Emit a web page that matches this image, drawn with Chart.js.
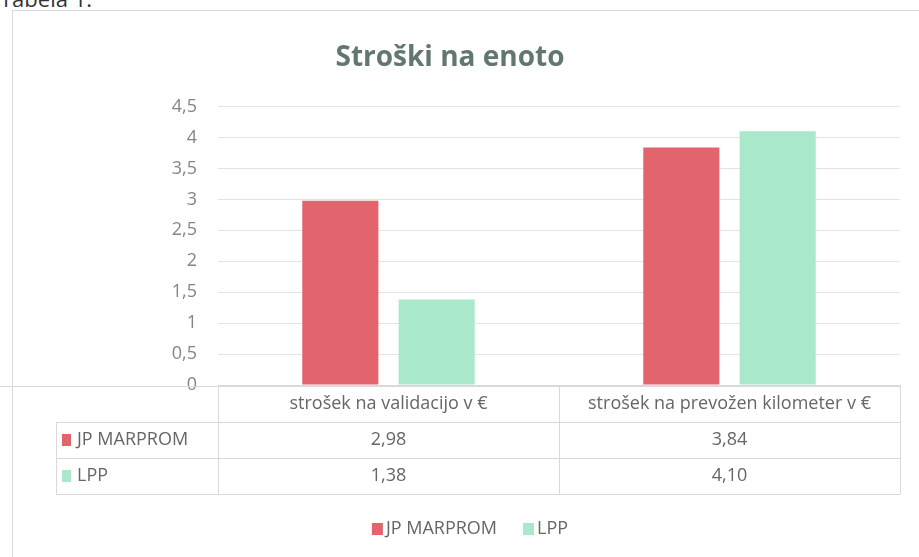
<!DOCTYPE html>
<html>
<head>
<meta charset="utf-8">
<script src="https://cdn.jsdelivr.net/npm/chart.js@4/dist/chart.umd.min.js"></script>
<style>
  html, body { margin: 0; padding: 0; background: #fff; }
  #wrap { position: relative; width: 919px; height: 557px; overflow: hidden; }
  #caption { position: absolute; left: 0; top: -13px; font: 22px 'Open Sans', sans-serif; color: #333; line-height: 22px; }
  #frame { position: absolute; left: 12px; top: 10px; width: 920px; height: 560px; border: 1px solid #d9d9d9; }
  #chart { position: absolute; left: 0; top: 0; }
</style>
</head>
<body>
<div id="wrap">
  <div id="caption">Tabela 1:</div>
  <div id="frame"></div>
  <canvas id="chart" width="919" height="557"></canvas>
</div>
<script>
const categories = ['strošek na validacijo v €', 'strošek na prevožen kilometer v €'];
const seriesNames = ['JP MARPROM', 'LPP'];
const marpromValues = [2.98, 3.84];
const lppValues = [1.38, 4.10];
const seriesColors = ['#e2646c', '#aae8cb'];

const FONT = "'Open Sans', sans-serif";
const fmt = (v) => v.toFixed(2).replace('.', ',');

// data table under the plot + legend, drawn from the x scale
const dataTable = {
  id: 'dataTable',
  afterDraw(chart) {
    const { ctx, chartArea } = chart;
    const x = chart.scales.x;
    const rowH = 36;
    const top = chartArea.bottom + 1;
    const keyLeft = 56;
    const colW = (x.right - x.left) / categories.length;
    const bounds = categories.map((c, i) => x.getPixelForValue(i) - colW / 2);
    bounds.push(x.right);

    ctx.save();
    ctx.strokeStyle = '#d9d9d9';
    ctx.lineWidth = 1;
    // faint baseline left of the plot
    ctx.beginPath();
    ctx.moveTo(0, top + 0.5);
    ctx.lineTo(x.left, top + 0.5);
    ctx.stroke();
    // horizontal rules
    ctx.beginPath();
    ctx.moveTo(x.left, top + 0.5);
    ctx.lineTo(x.right, top + 0.5);
    for (let r = 1; r <= 3; r++) {
      ctx.moveTo(keyLeft, top + r * rowH + 0.5);
      ctx.lineTo(x.right, top + r * rowH + 0.5);
    }
    // vertical rules
    bounds.forEach((b) => {
      ctx.moveTo(Math.round(b) + 0.5, top);
      ctx.lineTo(Math.round(b) + 0.5, top + 3 * rowH);
    });
    ctx.moveTo(keyLeft + 0.5, top + rowH);
    ctx.lineTo(keyLeft + 0.5, top + 3 * rowH);
    ctx.stroke();

    ctx.font = '18px ' + FONT;
    ctx.fillStyle = '#666';
    ctx.textAlign = 'center';
    ctx.textBaseline = 'middle';
    categories.forEach((c, i) => {
      ctx.fillText(c, x.getPixelForValue(i), top + rowH / 2);
    });
    const rows = [marpromValues, lppValues];
    rows.forEach((vals, r) => {
      const cy = top + rowH * (r + 1) + rowH / 2;
      vals.forEach((v, i) => ctx.fillText(fmt(v), x.getPixelForValue(i), cy));
      ctx.fillStyle = seriesColors[r];
      ctx.fillRect(keyLeft + 6, cy - 6, 9, 12);
      ctx.fillStyle = '#666';
      ctx.textAlign = 'left';
      ctx.fillText(seriesNames[r], keyLeft + 21, cy);
      ctx.textAlign = 'center';
    });

    // legend, centred under the table
    const ly = 529;
    const widths = seriesNames.map((n) => 14 + ctx.measureText(n).width);
    const total = widths.reduce((a, b) => a + b, 0) + 26;
    let lx = 470 - total / 2;
    ctx.textAlign = 'left';
    seriesNames.forEach((name, i) => {
      ctx.fillStyle = seriesColors[i];
      ctx.fillRect(lx, ly - 6, 11, 12);
      ctx.fillStyle = '#666';
      ctx.fillText(name, lx + 14, ly);
      lx += widths[i] + 26;
    });
    ctx.restore();
  }
};

new Chart(document.getElementById('chart'), {
  type: 'bar',
  data: {
    labels: categories,
    datasets: [
      { label: seriesNames[0], data: marpromValues, backgroundColor: seriesColors[0], categoryPercentage: 0.565, barPercentage: 0.79 },
      { label: seriesNames[1], data: lppValues, backgroundColor: seriesColors[1], categoryPercentage: 0.565, barPercentage: 0.79 },
    ],
  },
  options: {
    responsive: false,
    animation: false,
    layout: { padding: { top: 0, right: 19, bottom: 172, left: 0 } },
    plugins: {
      legend: { display: false },
      tooltip: { enabled: false },
      title: {
        display: true,
        text: 'Stroški na enoto',
        color: '#62786f',
        font: { family: FONT, size: 28, weight: 'bold' },
        padding: { top: 41, bottom: 32 },
      },
    },
    scales: {
      x: {
        ticks: { display: false },
        grid: { display: false },
        border: { display: true, color: '#d9d9d9' },
        afterFit(scale) { scale.height = 0; },
      },
      y: {
        min: 0,
        max: 4.5,
        ticks: {
          stepSize: 0.5,
          padding: 21,
          color: '#858585',
          font: { family: FONT, size: 18 },
          callback: (v) => String(v).replace('.', ','),
        },
        grid: { color: '#e4e4e4', drawTicks: false },
        border: { display: false },
        afterFit(scale) { scale.width = 218; },
      },
    },
  },
  plugins: [dataTable],
});
</script>
</body>
</html>
